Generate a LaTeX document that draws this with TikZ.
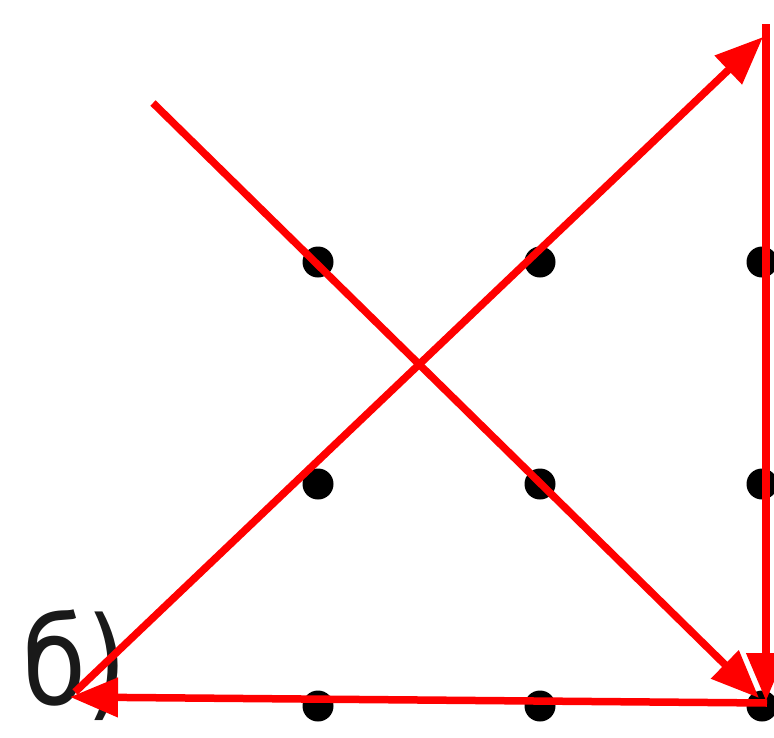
\documentclass[tikz,border=0pt]{standalone}
\usepackage{fontspec}
\setmainfont{Liberation Sans}
\newfontfamily\labfont{DejaVu Sans}
\usetikzlibrary{arrows.meta}
\begin{document}
\begin{tikzpicture}[x=1pt,y=-1pt,
  dot/.style={circle,fill=black,inner sep=0pt,minimum size=31pt},
  redline/.style={draw={rgb,255:red,255;green,0;blue,0},line width=7.5pt,
    -{Triangle[length=48pt,width=38pt]}},
  label/.style={font=\labfont\fontsize{122}{124}\selectfont,inner sep=0pt,
    text={rgb,255:red,25;green,25;blue,25}}]
\useasboundingbox (0,0) rectangle (774,737);
\node[dot] (d11) at (318,262) {};
\node[dot] (d12) at (540,262) {};
\node[dot] (d13) at (762,262) {};
\node[dot] (d21) at (318,484) {};
\node[dot] (d22) at (540,484) {};
\node[dot] (d23) at (762,484) {};
\node[dot] (d31) at (318,706) {};
\node[dot] (d32) at (540,706) {};
\node[dot] (d33) at (762,706) {};
\node[label,anchor=base west,xscale=0.85] (lab) at (22,704) {б)};
\coordinate (s) at (153,103);
\coordinate (a) at (759,698);
\coordinate (b) at (767,703);
\coordinate (c) at (70,697);
\coordinate (c2) at (75,692);
\coordinate (d) at (763,37);
\coordinate (e) at (766,24);
\coordinate (f) at (766,701);
\draw[redline] (s) -- (a);
\draw[redline] (b) -- (c);
\draw[redline] (c2) -- (d);
\draw[redline] (e) -- (f);
\end{tikzpicture}
\end{document}
